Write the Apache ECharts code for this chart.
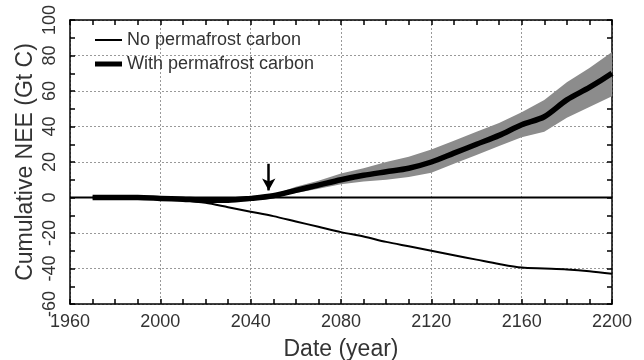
<!DOCTYPE html>
<html><head><meta charset="utf-8">
<script src="https://cdn.jsdelivr.net/npm/echarts@6/dist/echarts.min.js"></script>
<style>html,body{margin:0;padding:0;background:#fff}#c{width:644px;height:360px}</style>
</head><body><div id="c"></div>
<script>
const years = [1970,1980,1990,2000,2010,2020,2030,2040,2050,2060,2070,2080,2090,2100,2110,2120,2130,2140,2150,2160,2170,2180,2190,2200];
const noPermafrost = [0,0,0,-0.5,-1.5,-3,-5.5,-8,-10.5,-13.5,-16.5,-19.5,-22,-25,-27.5,-30,-32.5,-35,-37.5,-39.5,-40,-40.5,-41.5,-43];
const withPermafrost = [0,0,0,-0.5,-1,-1.5,-1.5,-0.5,1,4,7,10,12.5,14.5,16.5,20,25,30,35,41,45.5,55,62,70];
const bandYears = [2050,2060,2070,2080,2090,2100,2110,2120,2130,2140,2150,2160,2170,2180,2190,2200];
const bandUpper = [1.5,6,9.5,13.5,16.5,20,23,27,32,37,42,48,55,65,73,82];
const bandLower = [0.5,2.5,5,7.5,9,10,11.5,14,19,24,29,34,37,45,51,57];
const arrowStart = [2048,19];
const arrowEnd = [2048,4];
const xTicks = [1960,2000,2040,2080,2120,2160,2200];
const yTicks = [-60,-40,-20,0,20,40,60,80,100];

const font = 'Liberation Sans';
const txt = '#333';
const chart = echarts.init(document.getElementById('c'));
const axisBase = {
  axisLine:{show:true,onZero:false,lineStyle:{color:'#000',width:1.5}},
  axisTick:{show:true,inside:true,length:5,lineStyle:{color:'#000',width:1.5}},
  minorTick:{show:true,splitNumber:2,length:5,lineStyle:{color:'#000',width:1.5}},
};
const legendText = {fontFamily:font,fontSize:18,color:txt};
chart.setOption({
  animation:false,
  backgroundColor:'#fff',
  grid:{left:70,right:32,top:20,bottom:56,outerBoundsMode:'none',containLabel:false},
  legend:[
    {left:95, top:31, padding:0, itemWidth:27, itemHeight:2, itemGap:3, icon:'rect',
     textStyle:legendText, data:['No permafrost carbon']},
    {left:95, top:55, padding:0, itemWidth:27, itemHeight:5, itemGap:3, icon:'rect',
     textStyle:legendText, data:['With permafrost carbon']}
  ],
  xAxis:[
    Object.assign({}, axisBase, {
      type:'value', min:1960, max:2200, interval:40, position:'bottom',
      minorTick:Object.assign({}, axisBase.minorTick, {splitNumber:4}),
      axisLabel:{fontFamily:font,fontSize:18,color:txt,margin:9,
        formatter:v=>xTicks.includes(v)?String(v):''},
      splitLine:{show:true,lineStyle:{color:'#999',type:[2,2],width:1}},
      name:'Date (year)', nameLocation:'middle', nameGap:34, nameMoveOverlap:false,
      nameTextStyle:{fontFamily:font,fontSize:23,color:txt}
    }),
    Object.assign({}, axisBase, {
      type:'value', min:1960, max:2200, interval:40, position:'top',
      minorTick:Object.assign({}, axisBase.minorTick, {splitNumber:4}),
      axisLabel:{show:false}, splitLine:{show:false}
    })
  ],
  yAxis:[
    Object.assign({}, axisBase, {
      type:'value', min:-60, max:100, interval:20, position:'left',
      axisLabel:{fontFamily:font,fontSize:18,color:txt,rotate:90,margin:11,
        formatter:v=>yTicks.includes(v)?String(v):''},
      splitLine:{show:true,lineStyle:{color:'#999',type:[2,2],width:1}},
      name:'Cumulative NEE (Gt C)', nameLocation:'middle', nameGap:33, nameMoveOverlap:false,
      nameTextStyle:{fontFamily:font,fontSize:23,color:txt}
    }),
    Object.assign({}, axisBase, {
      type:'value', min:-60, max:100, interval:20, position:'right',
      axisLabel:{show:false}, splitLine:{show:false}
    })
  ],
  series:[
    {type:'custom', name:'band', silent:true, z:1,
     data:[0],
     renderItem:function(params, api){
       const pts = [];
       for (let i=0;i<bandYears.length;i++) pts.push(api.coord([bandYears[i], bandUpper[i]]));
       for (let i=bandYears.length-1;i>=0;i--) pts.push(api.coord([bandYears[i], bandLower[i]]));
       return {type:'polygon', shape:{points:pts}, style:{fill:'#8c8c8c'}};
     }},
    {type:'line', name:'zero', symbol:'none', data:[[1960,0],[2200,0]],
     lineStyle:{color:'#000',width:2}, z:2},
    {type:'line', name:'No permafrost carbon', symbol:'none', smooth:0.3,
     data:years.map((y,i)=>[y,noPermafrost[i]]),
     itemStyle:{color:'#000'}, lineStyle:{color:'#000',width:2}, z:3},
    {type:'line', name:'With permafrost carbon', symbol:'none', smooth:0.3,
     data:years.map((y,i)=>[y,withPermafrost[i]]),
     itemStyle:{color:'#000'}, lineStyle:{color:'#000',width:5.5}, z:4,
     markLine:{silent:true, symbol:['none','arrow'], symbolSize:[10,12],
       label:{show:false}, lineStyle:{color:'#000',width:2.5,type:'solid'},
       data:[[{coord:arrowStart},{coord:arrowEnd}]]}}
  ]
});
</script></body></html>
